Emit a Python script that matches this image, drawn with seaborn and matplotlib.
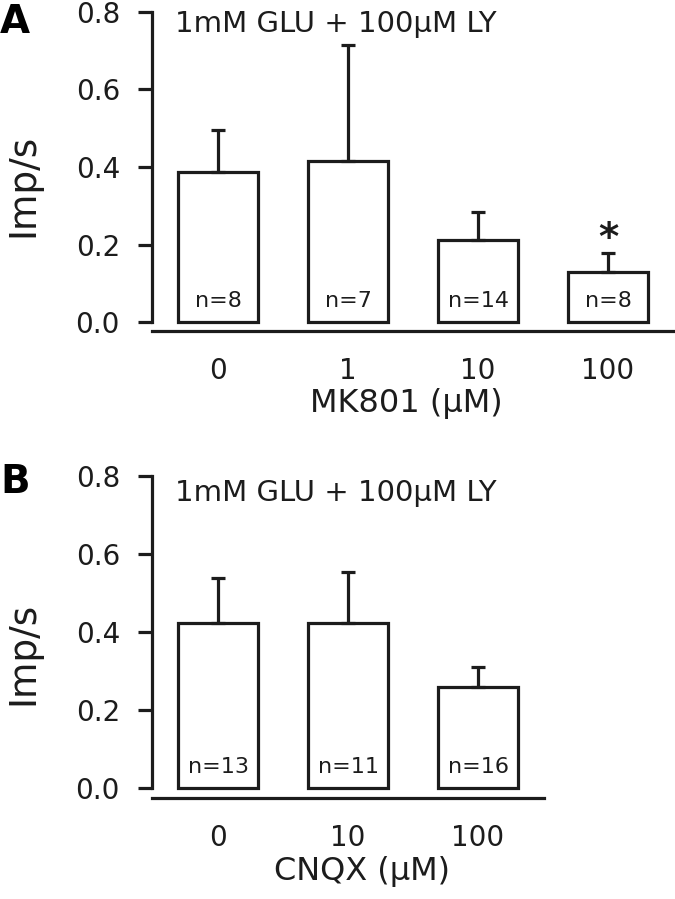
import matplotlib
matplotlib.use("Agg")
import matplotlib.pyplot as plt
import seaborn as sns

# panel A: MK801
mk_doses = ["0", "1", "10", "100"]
mk_mean = [0.387, 0.415, 0.212, 0.129]
mk_sem = [0.108, 0.300, 0.072, 0.049]
mk_n = ["n=8", "n=7", "n=14", "n=8"]

# panel B: CNQX
cn_doses = ["0", "10", "100"]
cn_mean = [0.423, 0.423, 0.259]
cn_sem = [0.115, 0.131, 0.051]
cn_n = ["n=13", "n=11", "n=16"]

sns.set_theme(style="white")
plt.rcParams["font.family"] = ["DejaVu Sans"]
ink = "#1c1c1c"
lw = 2.3

fig = plt.figure(figsize=(6.75, 8.99), dpi=100)
axA = fig.add_axes([0.225, 0.6318, 0.772, 0.3549])
axB = fig.add_axes([0.225, 0.1123, 0.772, 0.3582])


def panel(ax, doses, means, sems, ns, xlabel, ybot, xright, xlab_x, ylab_y, note_y):
    sns.barplot(x=doses, y=means, color="white", edgecolor=ink, linewidth=lw,
                width=0.615, errorbar=None, saturation=1, ax=ax)
    xs = list(range(len(doses)))
    ax.errorbar(xs, means, yerr=[[0] * len(sems), sems], fmt="none",
                ecolor=ink, elinewidth=lw, capsize=4.7, capthick=lw, zorder=1)
    for x, t in zip(xs, ns):
        ax.text(x, 0.055, t, ha="center", va="center", fontsize=16, color=ink)
    ax.set_xlim(-0.51, 3.5)
    ax.set_ylim(ybot, 0.8)
    ax.set_yticks([0.0, 0.2, 0.4, 0.6, 0.8])
    ax.set_yticklabels(["0.0", "0.2", "0.4", "0.6", "0.8"])
    for s in ["top", "right"]:
        ax.spines[s].set_visible(False)
    for s in ["left", "bottom"]:
        ax.spines[s].set_linewidth(lw)
        ax.spines[s].set_color(ink)
    ax.spines["left"].set_bounds(0, 0.8)
    ax.spines["bottom"].set_bounds(-0.51, xright)
    ax.tick_params(axis="y", direction="out", length=10, width=lw, color=ink,
                   labelsize=20, labelcolor=ink, pad=13, left=True)
    ax.tick_params(axis="x", length=0, labelsize=20, labelcolor=ink, pad=19)
    ax.set_xlabel(xlabel, fontsize=23, color=ink)
    ax.xaxis.set_label_coords(xlab_x, -0.18)
    ax.set_ylabel("Imp/s", fontsize=27, color=ink)
    ax.yaxis.set_label_coords(-0.212, ylab_y)
    ax.text(0.044, note_y, "1mM GLU + 100\u03bcM LY", transform=ax.transAxes,
            ha="left", va="center", fontsize=21, color=ink)


panel(axA, mk_doses, mk_mean, mk_sem, mk_n, "MK801 (\u03bcM)", -0.0232, 3.5,
      0.489, 0.458, 0.962)
panel(axB, cn_doses, cn_mean, cn_sem, cn_n, "CNQX (\u03bcM)", -0.0256, 2.51,
      0.403, 0.45, 0.947)

# significance mark over the 100 uM MK801 bar
axA.text(3, mk_mean[3] + mk_sem[3] - 0.012, "*", ha="center", va="bottom",
         fontsize=28, fontweight="bold", color=ink)

fig.text(0.0, 1 - 22 / 899, "A", fontsize=28, fontweight="bold", va="center", ha="left", color="black")
fig.text(0.0, 1 - 482 / 899, "B", fontsize=28, fontweight="bold", va="center", ha="left", color="black")

fig.savefig("out.png", dpi=100)
